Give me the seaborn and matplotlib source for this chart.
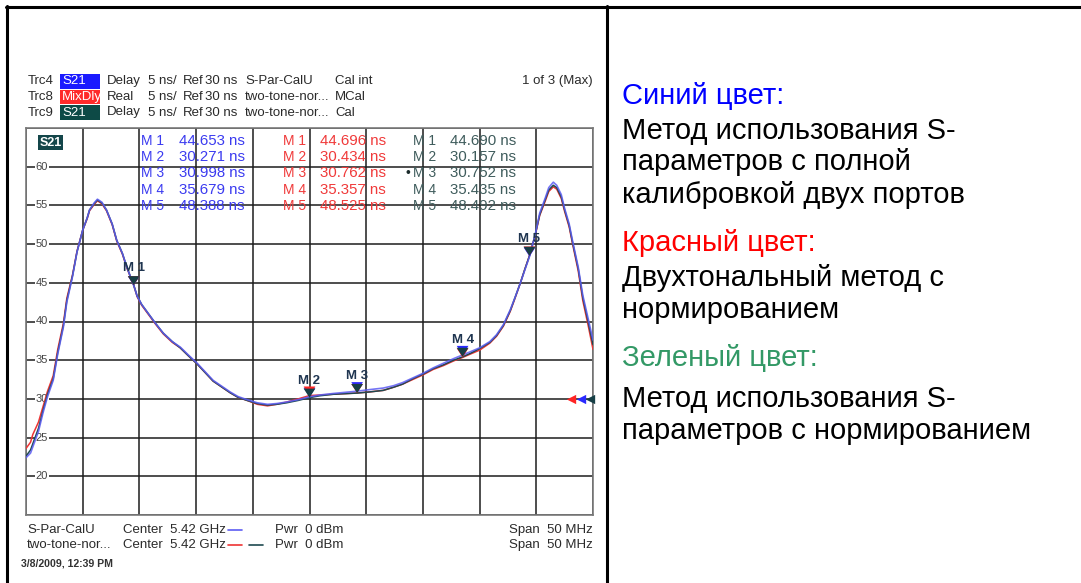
import numpy as np
import pandas as pd
import matplotlib
matplotlib.use("Agg")
import matplotlib.pyplot as plt
from matplotlib.lines import Line2D
from matplotlib.patches import Rectangle
from matplotlib.path import Path
from matplotlib.markers import MarkerStyle
from matplotlib.transforms import blended_transform_factory
import seaborn as sns

# ---- sweep / display settings ----
center_ghz = 5.42
span_mhz = 50
ref_ns = 30
scale_ns = 5
power_dbm = 0

# ---- group delay traces (ns) versus frequency (GHz) ----
freq_ghz = [5.3950, 5.3954, 5.3956, 5.3961, 5.3965, 5.3969, 5.3974, 5.3978,
            5.3983, 5.3986, 5.3991, 5.3995, 5.4000, 5.4004, 5.4006, 5.4010,
            5.4013, 5.4017, 5.4021, 5.4026, 5.4030, 5.4035, 5.4039, 5.4048,
            5.4052, 5.4057, 5.4064, 5.4071, 5.4079, 5.4086, 5.4093, 5.4101,
            5.4108, 5.4115, 5.4123, 5.4130, 5.4137, 5.4145, 5.4154, 5.4163,
            5.4171, 5.4180, 5.4190, 5.4209, 5.4221, 5.4253, 5.4265, 5.4274,
            5.4282, 5.4291, 5.4300, 5.4309, 5.4318, 5.4327, 5.4342, 5.4350,
            5.4359, 5.4365, 5.4371, 5.4377, 5.4381, 5.4386, 5.4390, 5.4399,
            5.4403, 5.4408, 5.4411, 5.4415, 5.4418, 5.4422, 5.4425, 5.4429,
            5.4432, 5.4437, 5.4441, 5.4446, 5.4450]
# Trc4: S21 delay, full two-port calibration
s21_full_cal = [22.4, 23.0, 23.8, 25.8, 28.2, 30.3, 32.4, 35.8,
                39.3, 42.5, 45.8, 49.0, 51.8, 53.4, 54.4, 55.3,
                55.8, 55.4, 54.4, 52.6, 50.5, 48.8, 47.0, 43.3,
                42.2, 41.2, 39.8, 38.5, 37.4, 36.7, 35.7, 34.6,
                33.5, 32.4, 31.6, 30.9, 30.3, 29.9, 29.5, 29.3,
                29.4, 29.6, 29.9, 30.5, 30.7, 31.2, 31.4, 31.7,
                32.1, 32.7, 33.3, 34.0, 34.6, 35.2, 36.1, 36.6,
                37.4, 38.3, 39.6, 41.5, 43.0, 45.0, 46.7, 51.2,
                54.0, 56.0, 57.3, 58.0, 57.6, 56.4, 54.6, 52.6,
                50.4, 47.0, 43.4, 40.2, 37.6]
# Trc8: two-tone mixer delay, normalized
mixdly_norm = [23.6, 24.4, 25.4, 27.0, 29.0, 31.0, 33.0, 36.4,
               39.8, 43.0, 46.0, 49.1, 51.8, 53.3, 54.3, 55.1,
               55.6, 55.2, 54.3, 52.5, 50.4, 48.7, 46.9, 43.2,
               42.1, 41.1, 39.7, 38.4, 37.3, 36.6, 35.6, 34.5,
               33.4, 32.3, 31.5, 30.8, 30.2, 29.8, 29.3, 29.1,
               29.3, 29.6, 30.0, 30.5, 30.6, 30.9, 31.1, 31.5,
               31.9, 32.5, 33.1, 33.8, 34.3, 34.9, 35.8, 36.3,
               37.2, 38.1, 39.4, 41.3, 42.9, 45.0, 46.8, 51.1,
               53.7, 55.6, 56.8, 57.4, 57.1, 55.9, 54.2, 52.2,
               50.0, 46.5, 42.7, 39.3, 36.4]
# Trc9: S21 delay, normalized
s21_norm = [22.6, 23.4, 24.2, 26.2, 28.5, 30.6, 32.6, 36.0,
            39.5, 42.7, 45.9, 49.0, 51.8, 53.4, 54.4, 55.2,
            55.7, 55.3, 54.4, 52.6, 50.5, 48.8, 47.0, 43.3,
            42.2, 41.2, 39.8, 38.5, 37.4, 36.6, 35.6, 34.5,
            33.4, 32.3, 31.5, 30.8, 30.2, 29.8, 29.4, 29.2,
            29.3, 29.5, 29.8, 30.4, 30.6, 30.9, 31.1, 31.5,
            31.9, 32.6, 33.2, 33.9, 34.4, 35.0, 35.9, 36.5,
            37.3, 38.2, 39.5, 41.4, 43.0, 45.0, 46.8, 51.2,
            53.8, 55.8, 57.0, 57.6, 57.3, 56.1, 54.4, 52.4,
            50.2, 46.8, 43.1, 39.8, 37.0]

# ---- markers ----
marker_names = ["M 1", "M 2", "M 3", "M 4", "M 5"]
marker_freq_ghz = [5.4045, 5.4200, 5.4242, 5.4335, 5.4394]
marker_s21_full_cal = [44.653, 30.271, 30.998, 35.679, 48.388]
marker_mixdly_norm = [44.696, 30.434, 30.762, 35.357, 48.525]
marker_s21_norm = [44.690, 30.157, 30.752, 35.435, 48.492]

traces = ["Trc4", "Trc8", "Trc9"]
trace_values = {"Trc4": s21_full_cal, "Trc8": mixdly_norm, "Trc9": s21_norm}
trace_markers = {"Trc4": marker_s21_full_cal, "Trc8": marker_mixdly_norm,
                 "Trc9": marker_s21_norm}
line_colors = {"Trc4": "#5c5cf2", "Trc8": "#ee3434", "Trc9": "#1f4a50"}
marker_colors = {"Trc4": "#2a2aff", "Trc8": "#ff2424", "Trc9": "#173f46"}

frames = []
mframes = []
for t in traces:
    sweep = pd.DataFrame({"freq": freq_ghz, "delay": trace_values[t]})
    mk = pd.DataFrame({"freq": marker_freq_ghz, "delay": trace_markers[t]})
    d = pd.concat([sweep, mk]).sort_values("freq")
    d["trace"] = t
    frames.append(d)
    mk = mk.copy()
    mk["trace"] = t
    mframes.append(mk)
df = pd.concat(frames, ignore_index=True)
mdf = pd.concat(mframes, ignore_index=True)

# ---- figure ----
sns.set_theme(style="white")
plt.rcParams["font.family"] = ["Liberation Sans", "DejaVu Sans"]

W, H = 1081, 583
fig = plt.figure(figsize=(W / 100, H / 100), dpi=100)
fig.patch.set_facecolor("white")


def fx(px):
    return px / W


def fy(py):
    return 1 - py / H


def ftext(px, py, s, **kw):
    kw.setdefault("va", "center")
    kw.setdefault("fontsize", 9.5)
    kw.setdefault("color", "#2a2a2a")
    return fig.text(fx(px), fy(py), s, **kw)


# plot area
ax_l, ax_r, ax_t, ax_b = 26, 593, 128, 515
ax = fig.add_axes([fx(ax_l), fy(ax_b), (ax_r - ax_l) / W, (ax_b - ax_t) / H])

f_lo = center_ghz - span_mhz / 2000
f_hi = center_ghz + span_mhz / 2000
y_lo = ref_ns - 3 * scale_ns
y_hi = ref_ns + 7 * scale_ns

sns.lineplot(data=df, x="freq", y="delay", hue="trace",
             hue_order=["Trc8", "Trc9", "Trc4"], palette=line_colors,
             estimator=None, sort=False, legend=False, lw=1.1, ax=ax, zorder=3)
for ln, t in zip(ax.lines, ["Trc8", "Trc9", "Trc4"]):
    if t == "Trc4":
        ln.set_alpha(0.85)
        ln.set_linewidth(1.2)

ax.set_xlim(f_lo, f_hi)
ax.set_ylim(y_lo, y_hi)
ax.set_xticks(np.linspace(f_lo, f_hi, 11))
ax.set_yticks(np.arange(y_lo, y_hi + 0.1, scale_ns))
ax.tick_params(length=0, labelbottom=False, labelleft=False)
ax.grid(True, color="#1c1c1c", lw=1.1)
ax.set_xlabel("")
ax.set_ylabel("")
for sp in ax.spines.values():
    sp.set_color("#7a7a7a")
    sp.set_linewidth(1.2)

# value labels on the graticule
ylab_tr = blended_transform_factory(ax.transAxes, ax.transData)
for v in np.arange(y_lo + scale_ns, y_hi - 0.1, scale_ns):
    ax.text(0.028, v, f"{v:.0f}", transform=ylab_tr, ha="center", va="center",
            fontsize=8, color="#444444", zorder=1.8,
            bbox=dict(fc="white", ec="none", pad=0.6))

# markers: triangle with its tip on the trace
tri = MarkerStyle(Path([(-1.0, 1.55), (1.0, 1.55), (0.0, 0.0), (-1.0, 1.55)],
                       [Path.MOVETO, Path.LINETO, Path.LINETO, Path.CLOSEPOLY]))
sns.scatterplot(data=mdf, x="freq", y="delay", hue="trace", palette=marker_colors,
                marker=tri, s=170, linewidth=0, legend=False, ax=ax, zorder=5)
ax.set_xlabel("")
ax.set_ylabel("")
for name, f, v in zip(marker_names, marker_freq_ghz, marker_s21_norm):
    ax.annotate(name, (f, v), xytext=(0, 8), textcoords="offset points",
                ha="center", va="bottom", fontsize=9.5, fontweight="bold",
                color="#1f3550", zorder=6)

# reference level arrows at the right edge
ref_tr = blended_transform_factory(ax.transAxes, ax.transData)
for xa, t in zip([0.962, 0.979, 0.995], ["Trc8", "Trc4", "Trc9"]):
    ax.scatter([xa], [ref_ns], marker="<", s=45, color=marker_colors[t],
               transform=ref_tr, clip_on=False, zorder=6, linewidths=0)

# ---- trace header ----
rows = [81.5, 97, 112.5]
hdr = [("Trc4", "S21", "#1a1aff", "Delay", "S-Par-CalU", "Cal int"),
       ("Trc8", "MixDly", "#ff2a2a", "Real", "two-tone-nor...", "MCal"),
       ("Trc9", "S21", "#0d4a46", "Delay", "two-tone-nor...", "Cal")]
for y, (trc, meas, col, fmt, cal_set, cal) in zip(rows, hdr):
    ftext(28, y, trc)
    fig.add_artist(Rectangle((fx(60), fy(y + 7.3)), 40 / W, 14.6 / H,
                             transform=fig.transFigure, color=col, lw=0))
    ftext(62, y, meas, color="white")
    ftext(107, y, fmt)
    ftext(148, y, f"{scale_ns} ns/")
    ftext(183, y, "Ref")
    ftext(205, y, f"{ref_ns} ns")
    ftext(245, y, cal_set)
    ftext(335, y, cal)
ftext(593, rows[0], "1 of 3 (Max)", ha="right")

# active trace label in the diagram
fig.add_artist(Rectangle((fx(38), fy(150)), 25 / W, 15 / H,
                         transform=fig.transFigure, color="#14464a", lw=0))
ftext(39.5, 142.5, "S21", color="white", fontsize=9, fontweight="bold")

# ---- marker table ----
table_rows = [141, 157, 173, 189.5, 206]
cols = [(141, 179, marker_s21_full_cal, "#3b3bf0"),
        (283, 320, marker_mixdly_norm, "#f03a3a"),
        (413, 450, marker_s21_norm, "#3f5c5c")]
for xn, xv, vals, col in cols:
    for y, name, v in zip(table_rows, marker_names, vals):
        ftext(xn, y, name, color=col, fontsize=10)
        ftext(xv, y, f"{v:.3f} ns", color=col, fontsize=10.8)
ftext(406, table_rows[2], "\u2022", color="#1a2a2a", fontsize=10)

# ---- channel footer ----
foot = [(530, "S-Par-CalU", ["Trc4"]), (545, "two-tone-nor...", ["Trc8", "Trc9"])]
for y, name, trs in foot:
    ftext(27, y, name)
    ftext(123, y, f"Center  {center_ghz:.2f} GHz")
    for i, t in enumerate(trs):
        x0 = 228 + 21 * i
        fig.add_artist(Line2D([fx(x0), fx(x0 + 14)], [fy(y), fy(y)],
                              transform=fig.transFigure,
                              color=line_colors[t], lw=1.2))
    ftext(275, y, f"Pwr  {power_dbm} dBm")
    ftext(593, y, f"Span  {span_mhz} MHz", ha="right")
ftext(21, 563, "3/8/2009, 12:39 PM", fontsize=7.6, fontweight="bold",
      color="#333333")

# ---- description column ----
desc = [
    (104, "Синий цвет:", "#0000ff"),
    (139, "Метод использования S-", "black"),
    (170, "параметров с полной", "black"),
    (203, "калибровкой двух портов", "black"),
    (251, "Красный цвет:", "#ff0000"),
    (286, "Двухтональный метод с", "black"),
    (318, "нормированием", "black"),
    (366, "Зеленый цвет:", "#339966"),
    (407, "Метод использования S-", "black"),
    (439, "параметров с нормированием", "black"),
]
for y, s, col in desc:
    fig.text(fx(622), fy(y), s, fontsize=21, color=col, va="baseline")

# ---- cell borders ----
lw_b = 2.2
fig.add_artist(Line2D([fx(6), 1], [fy(7), fy(7)], transform=fig.transFigure,
                      color="black", lw=lw_b))
fig.add_artist(Line2D([fx(6.5), fx(6.5)], [fy(6), 0], transform=fig.transFigure,
                      color="black", lw=lw_b))
fig.add_artist(Line2D([fx(607), fx(607)], [fy(6), 0], transform=fig.transFigure,
                      color="black", lw=lw_b))

fig.savefig("out.png", dpi=100)
